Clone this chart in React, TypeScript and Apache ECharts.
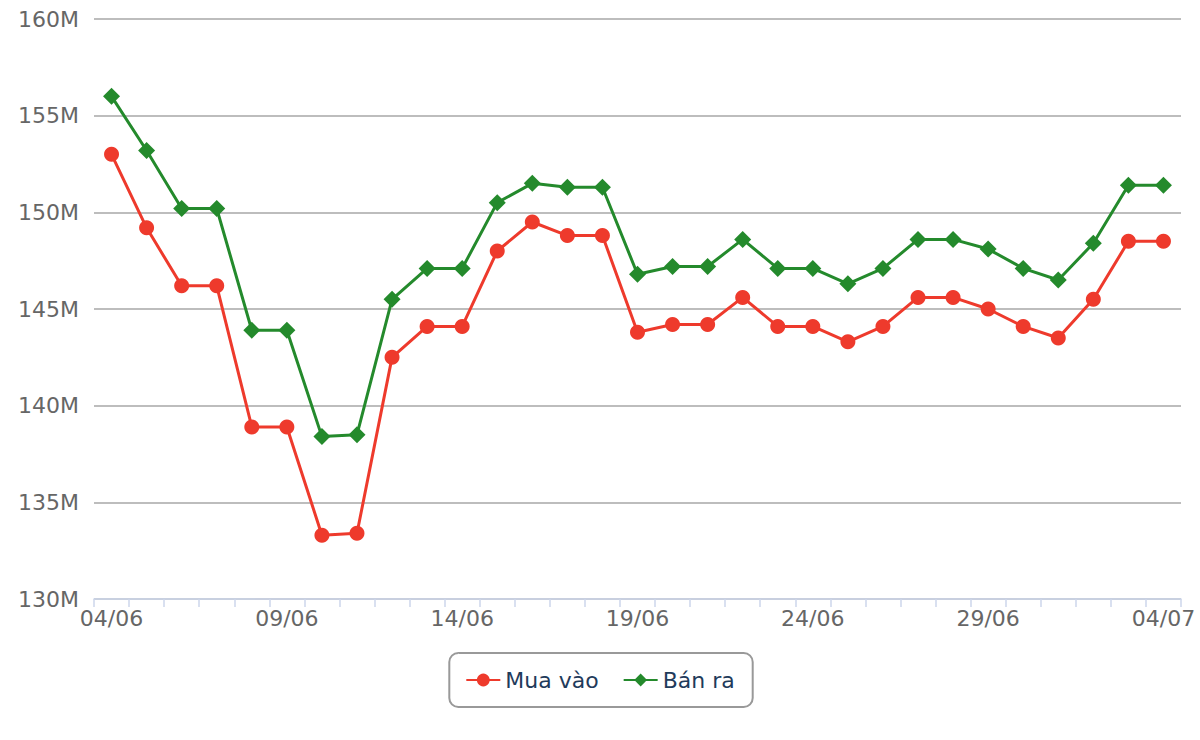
import React, { useEffect, useRef } from "react";
import * as echarts from "echarts";

const dates = [
  "04/06", "05/06", "06/06", "07/06", "08/06", "09/06", "10/06", "11/06", "12/06", "13/06",
  "14/06", "15/06", "16/06", "17/06", "18/06", "19/06", "20/06", "21/06", "22/06", "23/06",
  "24/06", "25/06", "26/06", "27/06", "28/06", "29/06", "30/06", "01/07", "02/07", "03/07", "04/07",
];

// Values in millions
const muaVao = [
  153, 149.2, 146.2, 146.2, 138.9, 138.9, 133.3, 133.4, 142.5, 144.1,
  144.1, 148, 149.5, 148.8, 148.8, 143.8, 144.2, 144.2, 145.6, 144.1,
  144.1, 143.3, 144.1, 145.6, 145.6, 145, 144.1, 143.5, 145.5, 148.5, 148.5,
];

const banRa = [
  156, 153.2, 150.2, 150.2, 143.9, 143.9, 138.4, 138.5, 145.5, 147.1,
  147.1, 150.5, 151.5, 151.3, 151.3, 146.8, 147.2, 147.2, 148.6, 147.1,
  147.1, 146.3, 147.1, 148.6, 148.6, 148.1, 147.1, 146.5, 148.4, 151.4, 151.4,
];

const FONT = "DejaVu Sans";

export default function App() {
  const ref = useRef<HTMLDivElement>(null);
  useEffect(() => {
    if (!ref.current) return;
    const chart = echarts.init(ref.current, undefined, { renderer: "svg" });
    chart.setOption({
      animation: false,
      backgroundColor: "#ffffff",
      grid: { left: 94, right: 19, top: 19, bottom: 141 },
      legend: {
        bottom: 33,
        left: "center",
        padding: [16, 18, 16, 16],
        borderColor: "#999999",
        borderWidth: 2,
        borderRadius: 9,
        itemWidth: 34,
        itemHeight: 16,
        itemGap: 24,
        textStyle: { fontFamily: FONT, fontSize: 22, color: "#1f3b5b" },
        data: ["Mua vào", "Bán ra"],
      },
      xAxis: {
        type: "category",
        data: dates,
        boundaryGap: true,
        axisLine: { lineStyle: { color: "#ccd6eb", width: 1.5 } },
        axisTick: { show: true, interval: 0, length: 8, lineStyle: { color: "#ccd6eb", width: 1.5 } },
        axisLabel: {
          interval: 4,
          margin: 8,
          fontFamily: FONT,
          fontSize: 22,
          color: "#666666",
        },
        splitLine: { show: false },
      },
      yAxis: {
        type: "value",
        min: 130,
        max: 160,
        interval: 5,
        axisLine: { show: false },
        axisTick: { show: false },
        axisLabel: {
          margin: 15,
          fontFamily: FONT,
          fontSize: 22,
          color: "#666666",
          formatter: (v: number) => `${v}M`,
        },
        splitLine: { lineStyle: { color: "#bdbdbd", width: 2 } },
      },
      series: [
        {
          name: "Mua vào",
          type: "line",
          data: muaVao,
          symbol: "circle",
          symbolSize: 15,
          showAllSymbol: true,
          color: "#ee3a2c",
          lineStyle: { width: 3, color: "#ee3a2c" },
          itemStyle: { color: "#ee3a2c" },
        },
        {
          name: "Bán ra",
          type: "line",
          data: banRa,
          symbol: "diamond",
          symbolSize: 17,
          showAllSymbol: true,
          color: "#248a2c",
          lineStyle: { width: 3, color: "#248a2c" },
          itemStyle: { color: "#248a2c" },
        },
      ],
    });
    return () => chart.dispose();
  }, []);
  return (
    <div
      ref={ref}
      style={{ position: "fixed", left: 0, top: 0, width: 1200, height: 740 }}
    />
  );
}
